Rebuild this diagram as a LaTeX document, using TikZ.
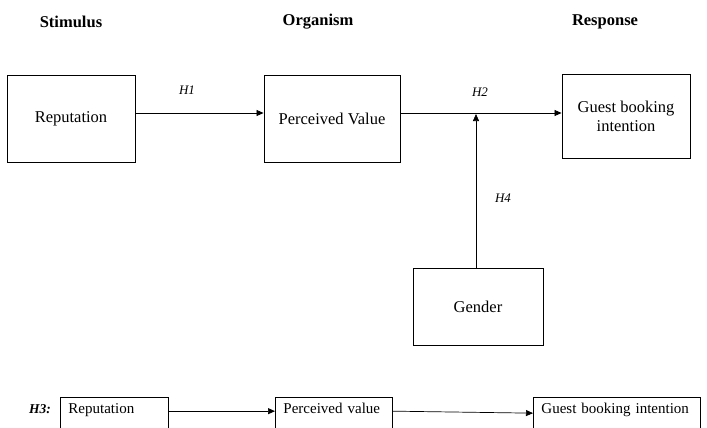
\documentclass[tikz,border=0pt]{standalone}
\usepackage{fontspec}
\setmainfont{Liberation Serif}
\usetikzlibrary{arrows.meta}
\begin{document}
\begin{tikzpicture}[x=1pt,y=-1pt,
  box/.style={draw,line width=0.9pt,inner sep=0pt,align=center,font=\fontsize{16.5}{19}\selectfont},
  lowbox/.style={draw,line width=0.9pt,anchor=north west,inner ysep=4pt,inner xsep=8pt,align=left,text height=12pt,text depth=34pt,font=\fontsize{15}{18}\selectfont},
  head/.style={font=\fontsize{16.5}{18}\selectfont\bfseries},
  hyp/.style={font=\fontsize{13}{15}\selectfont\itshape},
  arr/.style={line width=0.7pt,-{Triangle[length=7pt,width=6pt]}}]
\useasboundingbox (0,0) rectangle (707,428);
\clip (0,0) rectangle (707,428);
\node[head] (s) at (71,22) {Stimulus};
\node[head] (o) at (318,22) {Organism};
\node[head] (r) at (605,22) {Response};
\node[box,minimum width=128pt,minimum height=87pt] (rep) at (71,118.5) {Reputation};
\node[box,minimum width=136pt,minimum height=87pt] (pv) at (332,118.5) {Perceived Value};
\node[box,minimum width=128pt,minimum height=84pt] (gbi) at (626,116) {Guest booking\\intention};
\node[box,minimum width=130pt,minimum height=77pt] (gen) at (478,306.5) {Gender};
\draw[arr] (rep.east |- 0,113) -- (pv.west |- 0,113);
\draw[arr] (pv.east |- 0,113) -- (gbi.west |- 0,113);
\coordinate (m) at (476,114);
\draw[arr] (476,268) -- (m);
\node[hyp] (h1) at (187,90) {H1};
\node[hyp] (h2) at (480,92) {H2};
\node[hyp] (h4) at (503,198) {H4};
% bottom row
\node[font=\fontsize{13.5}{15}\selectfont\bfseries\itshape] (h3) at (40,409) {H3:};
\node[lowbox,text width=92pt] (r2) at (60,397) {Reputation};
\node[lowbox,text width=101pt] (p2) at (275,397) {Perceived value};
\node[lowbox,text width=151pt] (g2) at (533,397) {\mbox{Guest booking intention}};
\draw[arr] (r2.mid east) -- (p2.mid west);
\draw[arr] (p2.mid east) -- ([yshift=-2pt]g2.mid west);
\end{tikzpicture}
\end{document}
